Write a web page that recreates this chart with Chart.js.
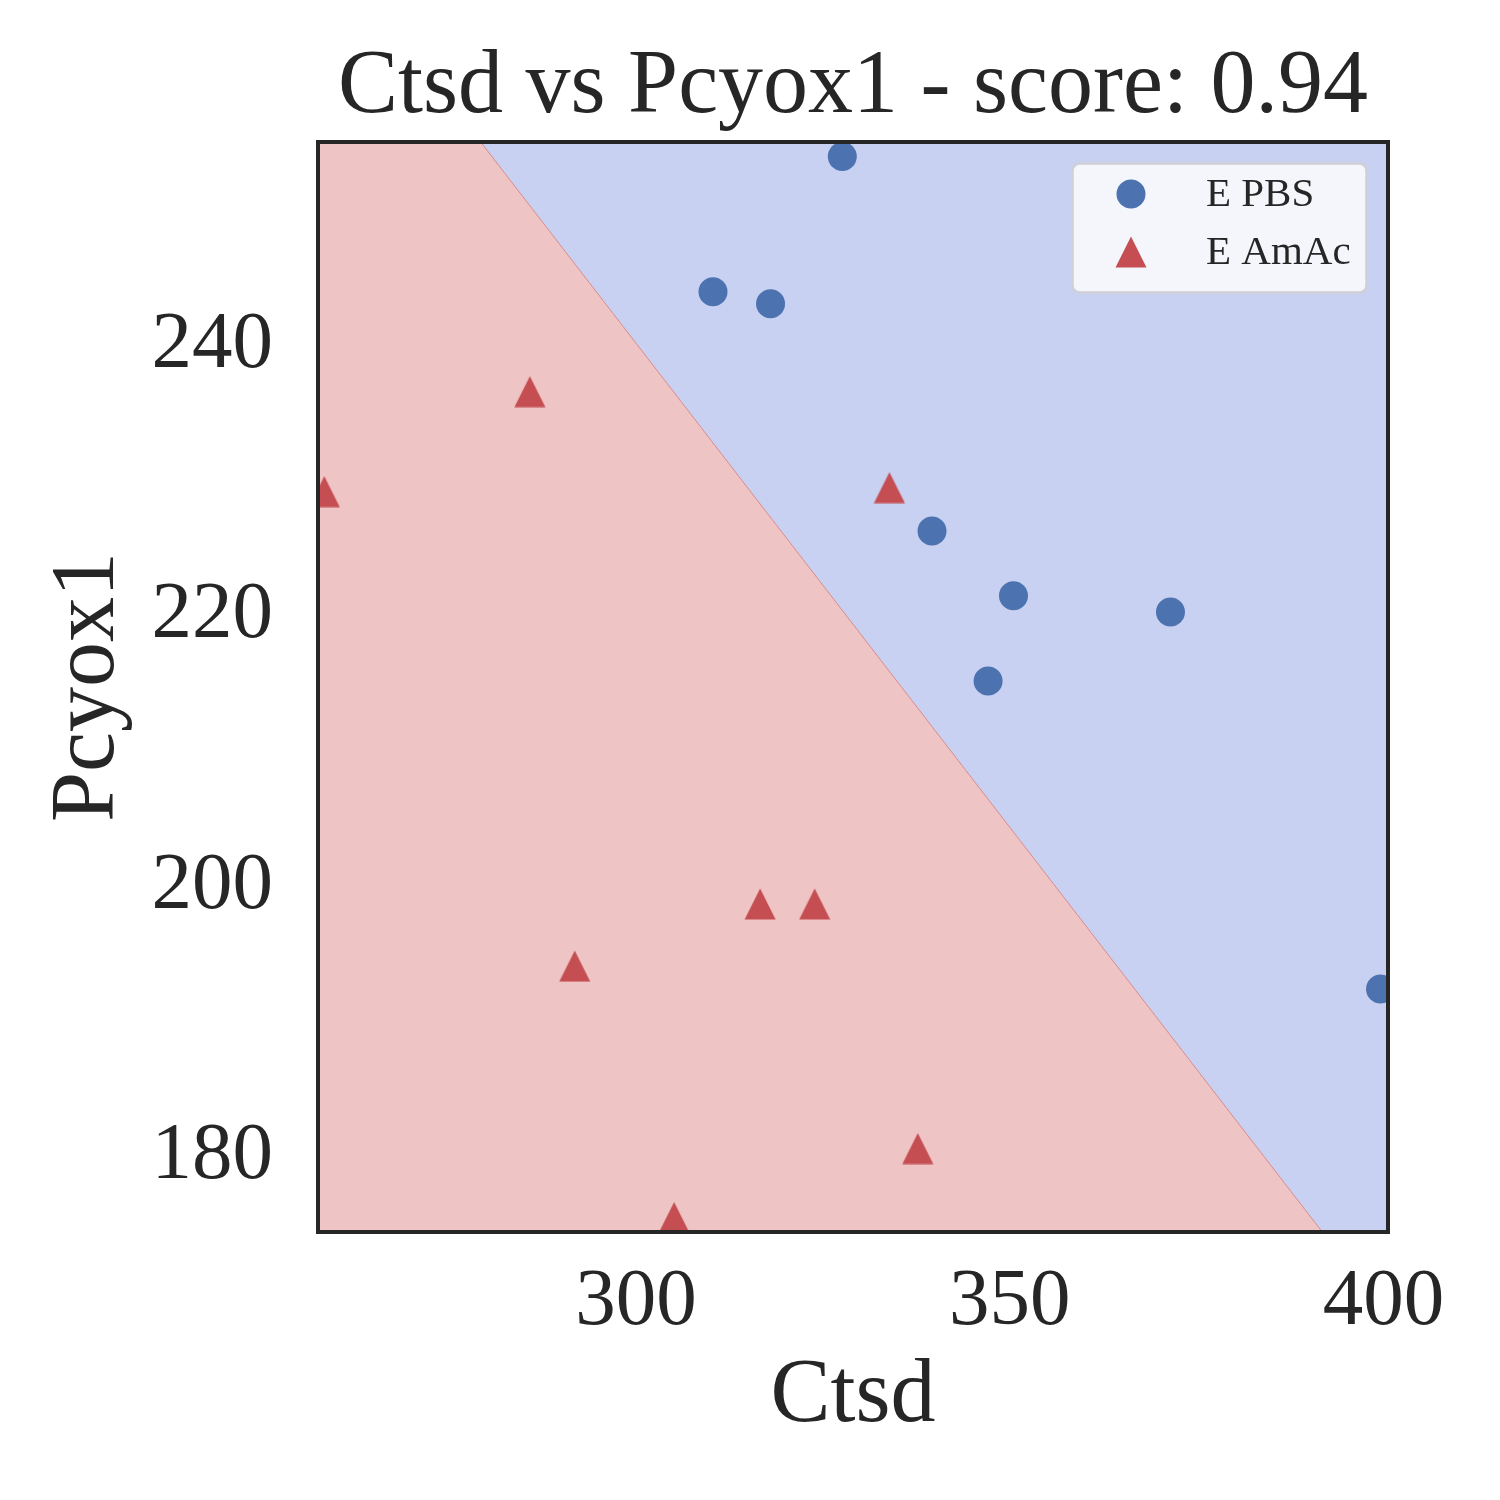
<!DOCTYPE html>
<html>
<head>
<meta charset="utf-8">
<title>Ctsd vs Pcyox1</title>
<script src="https://cdn.jsdelivr.net/npm/chart.js@4.4.1/dist/chart.umd.min.js"></script>
<style>
	html, body { margin: 0; padding: 0; background: #ffffff; }
	canvas { display: block; }
</style>
</head>
<body>
<canvas id="chart" width="1500" height="1500"></canvas>
<script>
// DATA =====================================================

const seriesLabels = ["E PBS", "E AmAc"];
const pbsX = [327.6, 310.3, 318.0, 339.6, 350.5, 371.5, 347.1, 399.6];
const pbsY = [254.0, 244.0, 243.1, 226.3, 221.5, 220.3, 215.2, 192.4];
const amacX = [285.8, 258.3, 333.9, 316.6, 323.9, 291.8, 337.7, 305.1];
const amacY = [236.6, 229.2, 229.5, 198.7, 198.7, 194.1, 180.6, 175.5];
const boundaryX = [250, 410];
const boundaryY = [276.0, 161.4];
const xTicks = [300, 350, 400];
const yTicks = [180, 200, 220, 240];
const titleText = "Ctsd vs Pcyox1 - score: 0.94";
const xLabel = "Ctsd";
const yLabel = "Pcyox1";

// VARIABLES ================================================

const FONT = "'Liberation Serif', 'Times New Roman', serif";
const TEXT = "#262626";
const BLUE = "#4c72b0";
const RED = "#c44e52";
const BLUE_AREA = "#c8d1f1";
const RED_AREA = "#eec4c4";

Chart.defaults.font.family = FONT;
Chart.defaults.color = TEXT;

// FUNCTIONS ================================================

function toPoints(xs, ys) {
	return xs.map((x, i) => ({ x: x, y: ys[i] }));
}

// matplotlib style "^" marker: as wide as it is tall, centred on mid height
function makeTriangle(size, color) {
	const c = document.createElement("canvas");
	c.width = size;
	c.height = size;
	const ctx = c.getContext("2d");
	ctx.fillStyle = color;
	ctx.beginPath();
	ctx.moveTo(size / 2, 0.5);
	ctx.lineTo(size - 0.5, size - 0.5);
	ctx.lineTo(0.5, size - 0.5);
	ctx.closePath();
	ctx.fill();
	return c;
}

const triangle = makeTriangle(32, RED);

const framePlugin = {
	id: "frame",
	afterDatasetsDraw(chart) {
		const { ctx, chartArea } = chart;
		ctx.save();
		ctx.strokeStyle = TEXT;
		ctx.lineWidth = 4;
		ctx.strokeRect(chartArea.left, chartArea.top, chartArea.right - chartArea.left, chartArea.bottom - chartArea.top);
		ctx.restore();
	},
};

const labelsPlugin = {
	id: "labels",
	afterDraw(chart) {
		const { ctx, chartArea } = chart;
		ctx.save();
		// title centred over the axes
		ctx.fillStyle = TEXT;
		ctx.font = "90px " + FONT;
		ctx.textAlign = "center";
		ctx.textBaseline = "middle";
		ctx.fillText(titleText, (chartArea.left + chartArea.right) / 2, 88);

		// legend box, upper right
		const bx = 1072.5, by = 163.5, bw = 294, bh = 129;
		ctx.beginPath();
		ctx.roundRect(bx, by, bw, bh, 7);
		ctx.fillStyle = "rgba(255, 255, 255, 0.8)";
		ctx.fill();
		ctx.strokeStyle = "#cfd0d6";
		ctx.lineWidth = 2.5;
		ctx.stroke();

		ctx.fillStyle = BLUE;
		ctx.beginPath();
		ctx.arc(1131, 194, 14.5, 0, Math.PI * 2);
		ctx.fill();
		ctx.drawImage(triangle, 1131 - 16, 252 - 16);

		ctx.fillStyle = TEXT;
		ctx.font = "41px " + FONT;
		ctx.textAlign = "left";
		ctx.fillText(seriesLabels[0], 1206, 195);
		ctx.fillText(seriesLabels[1], 1206, 253);
		ctx.restore();
	},
};

const boundary = toPoints(boundaryX, boundaryY);

const config = {
	type: "scatter",
	data: {
		datasets: [
			{
				label: seriesLabels[0],
				data: toPoints(pbsX, pbsY),
				pointStyle: "circle",
				pointRadius: 14.5,
				pointBorderWidth: 0,
				backgroundColor: BLUE,
				clip: 0,
				order: 0,
			},
			{
				label: seriesLabels[1],
				data: toPoints(amacX, amacY),
				pointStyle: triangle,
				pointRadius: 16,
				pointBorderWidth: 0,
				backgroundColor: RED,
				clip: 0,
				order: 0,
			},
			{
				type: "line",
				label: "PBS region",
				data: boundary,
				showLine: true,
				fill: "end",
				backgroundColor: BLUE_AREA,
				borderWidth: 0,
				pointRadius: 0,
				clip: 0,
				order: 2,
			},
			{
				type: "line",
				label: "AmAc region",
				data: boundary,
				showLine: true,
				fill: "start",
				backgroundColor: RED_AREA,
				borderColor: "rgba(214, 130, 130, 0.9)",
				borderWidth: 1,
				pointRadius: 0,
				clip: 0,
				order: 1,
			},
		],
	},
	options: {
		responsive: false,
		animation: false,
		devicePixelRatio: 1,
		events: [],
		layout: { padding: { top: 142, right: 112, bottom: 0, left: 0 } },
		plugins: {
			legend: { display: false },
			title: { display: false },
			tooltip: { enabled: false },
		},
		scales: {
			x: {
				type: "linear",
				position: "bottom",
				min: 257.46,
				max: 400.6,
				afterBuildTicks: (scale) => {
					scale.ticks = xTicks.map((v) => ({ value: v }));
				},
				afterFit: (scale) => {
					scale.height = 268;
				},
				grid: { display: false, drawTicks: false },
				border: { display: false },
				ticks: { autoSkip: false, maxRotation: 0, padding: 22, color: TEXT, font: { size: 81, lineHeight: 1.2 } },
				title: { display: true, text: xLabel, color: TEXT, font: { size: 90, lineHeight: 1.2 }, padding: { top: 0, bottom: 49 } },
			},
			y: {
				type: "linear",
				position: "left",
				min: 174.43,
				max: 255.07,
				afterBuildTicks: (scale) => {
					scale.ticks = yTicks.map((v) => ({ value: v }));
				},
				afterFit: (scale) => {
					scale.width = 318;
				},
				grid: { display: false, drawTicks: false },
				border: { display: false },
				ticks: { autoSkip: false, padding: 45, color: TEXT, font: { size: 81, lineHeight: 1.2 } },
				title: { display: true, text: yLabel, color: TEXT, font: { size: 90, lineHeight: 1.2 }, padding: { top: 35, bottom: 0 } },
			},
		},
	},
	plugins: [framePlugin, labelsPlugin],
};

const chart = new Chart(document.getElementById("chart"), config);

// END ======================================================
</script>
</body>
</html>
